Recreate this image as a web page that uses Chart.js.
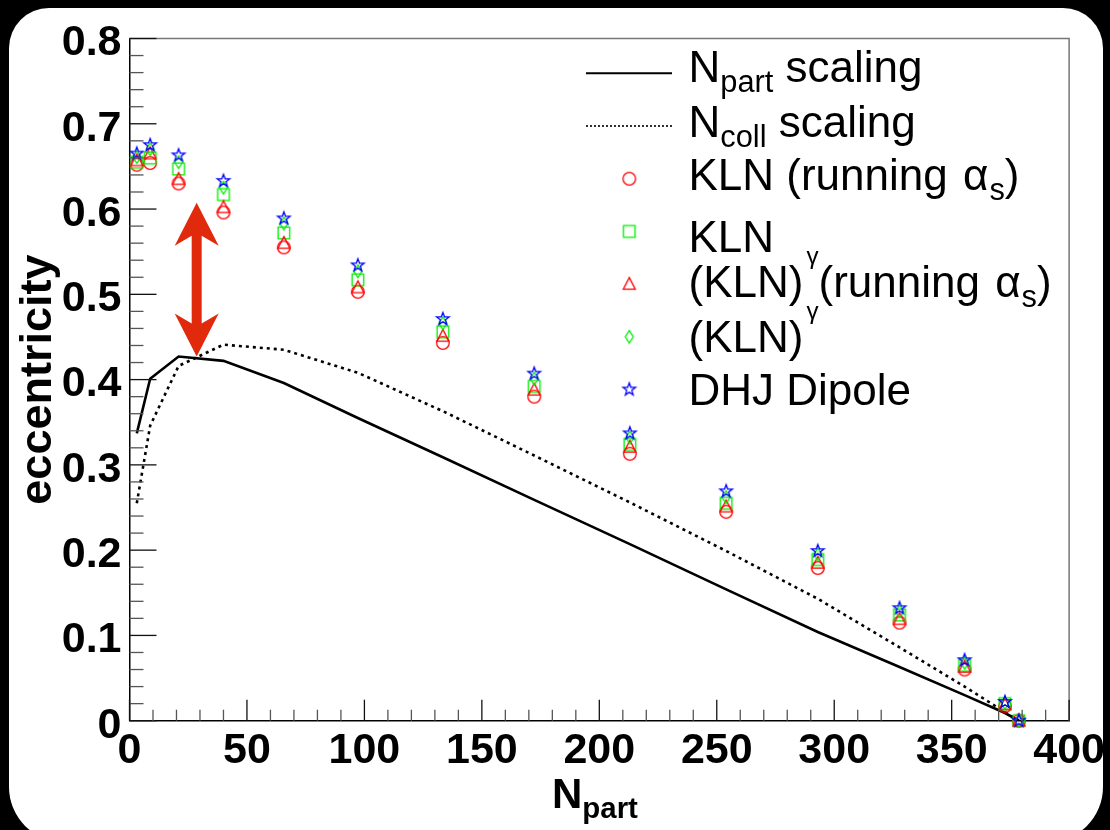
<!DOCTYPE html>
<html>
<head>
<meta charset="utf-8">
<title>eccentricity vs Npart</title>
<script src="https://cdn.jsdelivr.net/npm/chart.js@4.4.0/dist/chart.umd.min.js"></script>
<style>
    html, body { margin: 0; padding: 0; background: #000; }
    #wrap { width: 1110px; height: 830px; }
</style>
</head>
<body>
<div id="wrap"><canvas id="eccChart" width="1110" height="830"></canvas></div>
<script>
// centrality classes, mean number of participants
const nPart = [3.1, 8.8, 20.9, 40.0, 65.7, 97.2, 133.4, 172.3, 213.0, 254.0, 293.0, 327.8, 355.5, 372.7, 378.6];

// eccentricity per model
const klnRunning      = [0.652, 0.654, 0.630, 0.596, 0.555, 0.503, 0.443, 0.380, 0.313, 0.245, 0.179, 0.115, 0.060, 0.017, 0.0];
const kln             = [0.655, 0.660, 0.647, 0.617, 0.572, 0.517, 0.456, 0.392, 0.324, 0.255, 0.189, 0.124, 0.065, 0.020, 0.0];
const klnGammaRunning = [0.657, 0.665, 0.635, 0.602, 0.560, 0.508, 0.451, 0.388, 0.321, 0.251, 0.185, 0.119, 0.063, 0.019, 0.0];
const klnGamma        = [0.661, 0.670, 0.655, 0.625, 0.583, 0.527, 0.466, 0.401, 0.332, 0.262, 0.195, 0.128, 0.068, 0.021, 0.0];
const dhjDipole       = [0.665, 0.675, 0.663, 0.633, 0.589, 0.534, 0.471, 0.407, 0.337, 0.269, 0.199, 0.132, 0.071, 0.022, 0.0];

// Glauber scaling curves
const nPartScaling = [0.337, 0.401, 0.427, 0.422, 0.396, 0.355, 0.309, 0.259, 0.207, 0.154, 0.104, 0.063, 0.030, 0.009, 0.0];
const nCollScaling = [0.255, 0.346, 0.416, 0.441, 0.435, 0.408, 0.363, 0.311, 0.256, 0.199, 0.143, 0.086, 0.040, 0.010, 0.0];

// axis ticks
const yTickValues = [0, 0.1, 0.2, 0.3, 0.4, 0.5, 0.6, 0.7, 0.8];
const xTickValues = [0, 50, 100, 150, 200, 250, 300, 350, 400];

// double arrow marking the gap between models and scaling curves
const gapArrow = { x: 28.6, from: 0.427, to: 0.6075 };

const FONT = '"Liberation Sans", Arial, Helvetica, sans-serif';
const RED = '#ff0000', GREEN = '#00ee00', BLUE = '#0000ff';

function makeMarker(color, path) {
    const c = document.createElement('canvas');
    c.width = 20;
    c.height = 20;
    const g = c.getContext('2d');
    g.translate(10, 10);
    g.strokeStyle = color;
    g.lineWidth = 1.3;
    g.beginPath();
    path(g);
    g.closePath();
    g.stroke();
    return c;
}

const markers = {
    circle: makeMarker(RED, g => g.arc(0, 0, 6.3, 0, Math.PI * 2)),
    square: makeMarker(GREEN, g => g.rect(-5.8, -5.8, 11.6, 11.6)),
    triangle: makeMarker(RED, g => { g.moveTo(0, -6.6); g.lineTo(6, 5.2); g.lineTo(-6, 5.2); }),
    diamond: makeMarker(GREEN, g => { g.moveTo(0, -6.3); g.lineTo(4, 0); g.lineTo(0, 6.3); g.lineTo(-4, 0); }),
    star: makeMarker(BLUE, g => {
        for (let i = 0; i < 10; i++) {
            const r = i % 2 ? 2.7 : 6.6;
            const a = -Math.PI / 2 + i * Math.PI / 5;
            g.lineTo(r * Math.cos(a), r * Math.sin(a));
        }
    })
};

function points(ys) {
    return nPart.map((x, i) => ({ x: x, y: ys[i] }));
}

function markerSet(label, ys, marker, order) {
    return {
        label: label,
        data: points(ys),
        pointStyle: marker,
        pointRadius: 7,
        showLine: false,
        clip: false,
        order: order
    };
}

// text with sub/superscripts, parts = [[text, mode, gapBefore], ...]
function drawRich(ctx, parts, x, y, size, weight) {
    ctx.textAlign = 'left';
    ctx.textBaseline = 'alphabetic';
    ctx.fillStyle = '#000';
    for (const [txt, mode, gap] of parts) {
        let s = size, dy = 0;
        if (mode === 'sub') { s = size * 0.7; dy = size * 0.23; }
        if (mode === 'sup') { s = size * 0.55; dy = -size * 0.75; }
        x += gap || 0;
        ctx.font = `${weight} ${s}px ${FONT}`;
        ctx.fillText(txt, x, y + dy);
        x += ctx.measureText(txt).width;
    }
}

const legendRows = [
    { line: 'solid', text: [['N'], ['part', 'sub'], [' scaling']], base: 81.7 },
    { line: 'dotted', text: [['N'], ['coll', 'sub'], [' scaling']], base: 136.7 },
    { marker: markers.circle, text: [['KLN (running '], ['\u03b1', null, 3], ['s', 'sub', 1], [')']], base: 190 },
    { marker: markers.square, text: [['KLN']], base: 251.7 },
    { marker: markers.triangle, text: [['(KLN)'], ['\u03b3', 'sup', 3], ['(running '], ['\u03b1', null, 3], ['s', 'sub', 1], [')']], base: 296.7 },
    { marker: markers.diamond, text: [['(KLN)'], ['\u03b3', 'sup', 3]], base: 351.7 },
    { marker: markers.star, text: [['DHJ Dipole']], base: 405 }
];

const panelPlugin = {
    id: 'panel',
    beforeDraw(chart) {
        const ctx = chart.ctx;
        ctx.save();
        ctx.fillStyle = '#000';
        ctx.fillRect(0, 0, chart.width, chart.height);
        ctx.fillStyle = '#fff';
        ctx.beginPath();
        ctx.roundRect(9, 8, 1094, 834, [40, 40, 55, 55]);
        ctx.fill();
        ctx.restore();
    }
};

const decorPlugin = {
    id: 'decor',
    afterDraw(chart) {
        const ctx = chart.ctx;
        const xs = chart.scales.x, ys = chart.scales.y;
        const a = chart.chartArea;
        ctx.save();

        // top and right frame
        ctx.strokeStyle = '#777';
        ctx.lineWidth = 1.5;
        ctx.beginPath();
        ctx.moveTo(a.left, a.top);
        ctx.lineTo(a.right, a.top);
        ctx.lineTo(a.right, a.bottom);
        ctx.stroke();

        // inward ticks on y axis
        ctx.lineWidth = 1.3;
        for (let i = 0; i <= 40; i++) {
            const py = ys.getPixelForValue(i * 0.02);
            const major = i % 5 === 0;
            ctx.strokeStyle = major ? '#111' : '#555';
            ctx.beginPath();
            ctx.moveTo(a.left, py);
            ctx.lineTo(a.left + (major ? 27 : 14), py);
            ctx.stroke();
        }
        // inward ticks on x axis
        for (let i = 0; i <= 40; i++) {
            const px = xs.getPixelForValue(i * 10);
            const major = i % 5 === 0;
            ctx.strokeStyle = major ? '#111' : '#555';
            ctx.beginPath();
            ctx.moveTo(px, a.bottom);
            ctx.lineTo(px, a.bottom - (major ? 21 : 11));
            ctx.stroke();
        }

        // double arrow
        const cx = xs.getPixelForValue(gapArrow.x);
        const yT = ys.getPixelForValue(gapArrow.to);
        const yB = ys.getPixelForValue(gapArrow.from);
        ctx.fillStyle = '#e1290b';
        ctx.beginPath();
        ctx.moveTo(cx, yT);
        ctx.lineTo(cx + 22, yT + 43);
        ctx.lineTo(cx + 5, yT + 33);
        ctx.lineTo(cx + 5, yB - 33);
        ctx.lineTo(cx + 22, yB - 43);
        ctx.lineTo(cx, yB);
        ctx.lineTo(cx - 22, yB - 43);
        ctx.lineTo(cx - 5, yB - 33);
        ctx.lineTo(cx - 5, yT + 33);
        ctx.lineTo(cx - 22, yT + 43);
        ctx.closePath();
        ctx.fill();

        // legend
        const sampleX = 629.3;
        legendRows.forEach((row, i) => {
            const my = 73.3 + i * 52.7;
            if (row.line) {
                ctx.strokeStyle = '#000';
                ctx.lineWidth = row.line === 'solid' ? 2 : 1.6;
                ctx.setLineDash(row.line === 'solid' ? [] : [2, 2]);
                ctx.beginPath();
                ctx.moveTo(586, my);
                ctx.lineTo(672, my);
                ctx.stroke();
                ctx.setLineDash([]);
            } else {
                ctx.drawImage(row.marker, sampleX - 10, my - 10);
            }
            drawRich(ctx, row.text, 688.5, row.base, 44, 'normal');
        });

        // x axis title
        drawRich(ctx, [['N'], ['part', 'sub']], 552, 808, 42, 'bold');

        ctx.restore();
    }
};

const ctx = document.getElementById('eccChart');

new Chart(ctx, {
    type: 'scatter',
    data: {
        datasets: [
            markerSet('DHJ Dipole', dhjDipole, markers.star, 0),
            markerSet('(KLN)^gamma', klnGamma, markers.diamond, 1),
            markerSet('(KLN)^gamma (running alpha_s)', klnGammaRunning, markers.triangle, 2),
            markerSet('KLN', kln, markers.square, 3),
            markerSet('KLN (running alpha_s)', klnRunning, markers.circle, 4),
            {
                label: 'Npart scaling',
                data: points(nPartScaling),
                showLine: true,
                borderColor: '#000',
                borderWidth: 2.6,
                pointRadius: 0,
                tension: 0,
                order: 5
            },
            {
                label: 'Ncoll scaling',
                data: points(nCollScaling),
                showLine: true,
                borderColor: '#000',
                borderWidth: 2.6,
                borderDash: [3, 4],
                pointRadius: 0,
                tension: 0,
                order: 6
            }
        ]
    },
    options: {
        responsive: false,
        devicePixelRatio: 1,
        animation: false,
        layout: { padding: { left: 0, top: 38.5, right: 39.3, bottom: 0 } },
        plugins: {
            legend: { display: false },
            tooltip: { enabled: false }
        },
        scales: {
            x: {
                type: 'linear',
                min: 0,
                max: 400,
                afterBuildTicks: s => { s.ticks = xTickValues.map(v => ({ value: v })); },
                afterFit: s => { s.height = 109.3; },
                grid: { display: false, drawTicks: false },
                border: { display: true, color: '#000', width: 1.5 },
                ticks: {
                    color: '#000',
                    padding: 5,
                    maxRotation: 0,
                    font: { family: FONT, size: 43, weight: 'bold' },
                    callback: v => String(v)
                }
            },
            y: {
                type: 'linear',
                min: 0,
                max: 0.8,
                afterBuildTicks: s => { s.ticks = yTickValues.map(v => ({ value: v })); },
                afterFit: s => { s.width = 129.5; },
                grid: { display: false, drawTicks: false },
                border: { display: true, color: '#000', width: 1.5 },
                ticks: {
                    color: '#000',
                    padding: 8,
                    labelOffset: 5,
                    font: { family: FONT, size: 43, weight: 'bold' },
                    callback: v => v === 0 ? '0' : v.toFixed(1)
                },
                title: {
                    display: true,
                    text: 'eccentricity',
                    color: '#000',
                    padding: { top: 12, bottom: 0 },
                    font: { family: FONT, size: 45, weight: 'bold' }
                }
            }
        }
    },
    plugins: [panelPlugin, decorPlugin]
});
</script>
</body>
</html>
